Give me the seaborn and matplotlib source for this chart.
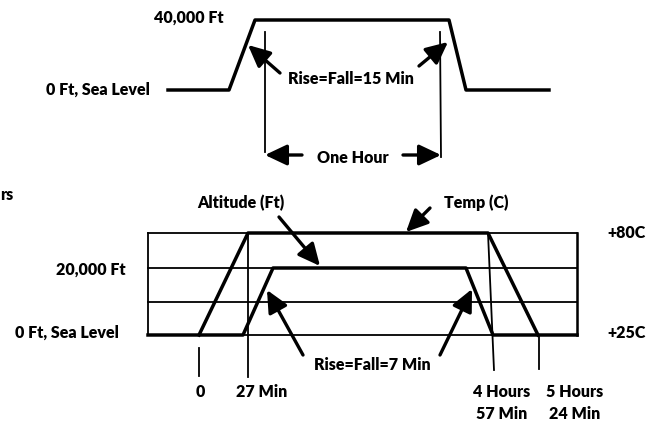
import numpy as np
import pandas as pd
import matplotlib
matplotlib.use("Agg")
import matplotlib.pyplot as plt
import seaborn as sns

# Schematic profiles (diagram units: x to the right, y downward)
# Top chart: altitude profile with 15 min rise / fall and one hour hold
top_alt_x = [168, 229, 255, 449, 466, 549]
top_alt_y = [90, 90, 20, 20, 90, 90]

# Bottom chart: grid box levels
box_left, box_right = 148, 577
grid_levels = [233, 268, 302, 335]

# Bottom chart: temperature profile (+25C -> +80C -> +25C)
temp_x = [199, 248, 488, 538]
temp_y = [335, 233, 233, 335]

# Bottom chart: altitude profile (0 -> 20,000 Ft -> 0), 7 min rise / fall
alt_x = [148, 243, 273, 466, 493, 577]
alt_y = [335, 335, 268, 268, 335, 335]

# time markers on bottom chart: (x_top, y_top, x_bottom, y_bottom)
time_marks = [(199, 348, 199, 376), (248, 233, 248, 377),
              (488, 233, 494, 370), (539, 337, 539, 369)]
time_labels = ["0", "27 Min", "4 Hours\n57 Min", "5 Hours\n24 Min"]
time_label_x = [200, 262, 502, 575]

# vertical markers bounding the one-hour hold on the top chart
hour_marks = [(265, 32, 265, 152), (440, 32, 441, 157)]

plt.rcParams["font.family"] = ["Lato", "DejaVu Sans"]
fig = plt.figure(figsize=(6.56, 4.23), dpi=100)
ax = fig.add_axes([0, 0, 1, 1])

thick = 2.5
thin = 1.3
fs = 11.5

# top altitude profile
top_df = pd.DataFrame({"x": top_alt_x, "y": top_alt_y})
sns.lineplot(data=top_df, x="x", y="y", sort=False, estimator=None,
             color="black", lw=thick, ax=ax)

for x0, y0, x1, y1 in hour_marks:
    ax.plot([x0, x1], [y0, y1], color="black", lw=thin)

# bottom grid box
for lv in grid_levels:
    ax.plot([box_left, box_right], [lv, lv], color="black", lw=thin)
ax.plot([box_left, box_left], [grid_levels[0], grid_levels[-1]], color="black", lw=thin)
ax.plot([box_right, box_right], [grid_levels[0], grid_levels[-1]], color="black", lw=thin * 1.4)

# temperature and altitude profiles
prof_df = pd.concat([
    pd.DataFrame({"x": temp_x, "y": temp_y, "series": "Temp (C)"}),
    pd.DataFrame({"x": alt_x, "y": alt_y, "series": "Altitude (Ft)"}),
])
sns.lineplot(data=prof_df, x="x", y="y", units="series", sort=False, estimator=None,
             color="black", lw=thick, ax=ax, legend=False)

for x0, y0, x1, y1 in time_marks:
    ax.plot([x0, x1], [y0, y1], color="black", lw=thin)

ax.set_xlim(0, 656)
ax.set_ylim(423, 0)
ax.axis("off")

tkw = dict(fontsize=fs, fontweight="heavy", color="black", va="center")
arrow = dict(arrowstyle="-|>,head_length=0.95,head_width=0.45", color="black",
             lw=2.4, mutation_scale=14, shrinkA=0, shrinkB=0)

# top chart labels
ax.text(224, 18, "40,000 Ft", ha="right", **tkw)
ax.text(150, 90, "0 Ft, Sea Level", ha="right", **tkw)
ax.text(351, 79, "Rise=Fall=15 Min", ha="center", **tkw)
ax.annotate("", xy=(248, 45), xytext=(280, 73), arrowprops=arrow)
ax.annotate("", xy=(448, 42), xytext=(419, 66), arrowprops=arrow)
ax.text(353, 158, "One Hour", ha="center", **tkw)
ax.annotate("", xy=(265, 155), xytext=(302, 155), arrowprops=arrow)
ax.annotate("", xy=(441, 155), xytext=(403, 155), arrowprops=arrow)

# fragment of a label cut off at the left edge in the original
ax.text(0, 195, "rs", ha="left", **tkw)

# bottom chart labels
ax.text(126, 270, "20,000 Ft", ha="right", **tkw)
ax.text(119, 333, "0 Ft, Sea Level", ha="right", **tkw)
ax.text(607, 233, "+80C", ha="left", **tkw)
ax.text(607, 333, "+25C", ha="left", **tkw)
ax.text(241, 203, "Altitude (Ft)", ha="center", **tkw)
ax.annotate("", xy=(320, 266), xytext=(279, 217), arrowprops=arrow)
ax.text(476, 203, "Temp (C)", ha="center", **tkw)
ax.annotate("", xy=(406, 232), xytext=(430, 208), arrowprops=arrow)
ax.text(372, 365, "Rise=Fall=7 Min", ha="center", **tkw)
ax.annotate("", xy=(267, 290), xytext=(303, 355), arrowprops=arrow)
ax.annotate("", xy=(472, 289), xytext=(440, 355), arrowprops=arrow)

tick_kw = dict(tkw, va="top")
for lbl, lx in zip(time_labels, time_label_x):
    ax.text(lx, 384, lbl, ha="center", linespacing=1.45, **tick_kw)

fig.savefig("out.png", dpi=100)
